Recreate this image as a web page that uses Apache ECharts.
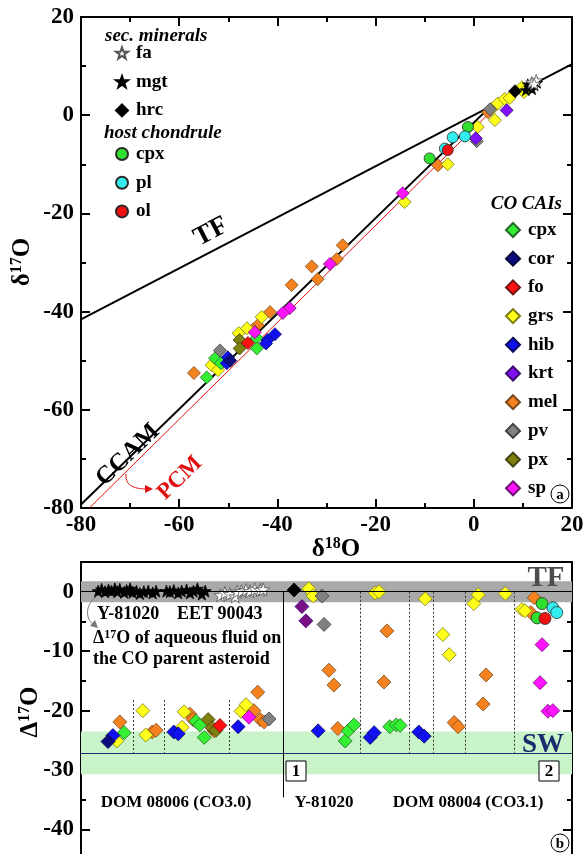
<!DOCTYPE html>
<html><head><meta charset="utf-8">
<script src="https://cdn.jsdelivr.net/npm/echarts@6/dist/echarts.min.js"></script>
<style>html,body{margin:0;padding:0;background:#fff}#c{width:584px;height:854px}</style>
</head><body><div id="c"></div>
<script>
// ---------- Panel (a): delta18O vs delta17O ----------
const xTicksA = [-80, -60, -40, -20, 0, 20];
const yTicksA = [-80, -60, -40, -20, 0, 20];
const tfLine = [[-80, -41.6], [20, 10.4]];
const ccamLine = [[-80, -79.3], [3.3, 1.7]];
const pcmLine = [[-78.3, -80], [8, 5.2]];

const aFa = [[11.8, 6.7], [12.7, 7.1], [12.3, 6.4]];
const aMgt = [[10.6, 5.1], [11.3, 5.7], [11.9, 5.3], [12.4, 6.1], [11.0, 6.3], [11.6, 6.0], [12.9, 6.6]];
const aHrc = [[8.4, 4.9]];
const aChCpx = [[-9.0, -8.8], [-1.2, -2.4]];
const aChPl = [[-5.9, -6.8], [-4.3, -4.5], [-1.8, -4.3]];
const aChOl = [[-5.3, -7.1]];
const aCpx = [[-44.2, -45.4], [-44.2, -47.5], [-52.7, -49.5], [-54.4, -53.4], [-51.5, -50.5]];
const aCor = [[-49.6, -50.0]];
const aFo = [[-46.0, -46.4]];
const aGrs = [[-43.2, -41.1], [-46.2, -43.4], [-47.9, -44.4], [-53.4, -50.9], [-52.1, -51.9], [-14.1, -17.7], [-5.3, -10.0], [0.8, -2.4], [4.3, -1.0], [3.8, 1.4], [4.9, 2.4], [6.3, 3.3], [7.3, 3.5], [9.8, 5.7], [10.2, 4.7]];
const aHib = [[-42.0, -45.8], [-40.5, -44.6], [-42.3, -46.5], [-50.1, -49.3], [-50.3, -50.5]];
const aKrt = [[0.4, -4.7], [6.7, 1.0]];
const aMel = [[-26.7, -26.5], [-27.9, -29.3], [-33.0, -30.8], [-31.8, -33.4], [-37.1, -34.6], [-41.5, -40.1], [-44.0, -42.8], [-45.0, -43.7], [-57.0, -52.5], [-7.3, -10.2], [2.9, 0.6]];
const aPv = [[-51.7, -47.9], [0.6, -5.3], [3.3, 1.2]];
const aPx = [[-47.7, -45.8], [-47.7, -47.5]];
const aSp = [[-29.3, -30.3], [-37.5, -39.3], [-38.9, -40.3], [-44.6, -44.2], [-14.5, -15.9]];

// ---------- Panel (b): analysis index vs Delta17O ----------
const yTicksB = [-40, -30, -20, -10, 0];
const bandTF = [-1.75, 1.75];
const bandSW = [-30.7, -23.5];
const swValue = -27.1;
const sepSolid = [41.1];
const sepLeft = [10.6, 16.9, 30.1];
const sepRight = [56.8, 66.8, 71.7, 78.2, 88.2];

const bMgt = [[3.5, 0.1], [4.2, 0.4], [4.9, 0.0], [5.6, 0.3], [6.2, 0.1], [6.9, 0.5], [7.4, 0.0], [7.9, 0.4], [8.8, -0.1], [9.3, 0.2], [10.0, 0.5], [10.5, -0.1], [11.3, 0.1], [12.0, -0.3], [12.8, 0.0], [13.7, 0.1], [14.6, -0.2], [15.3, 0.1], [17.4, 0.1], [18.1, 0.0], [18.9, 0.2], [19.8, -0.2], [20.5, 0.1], [21.5, 0.3], [22.2, -0.2], [22.9, 0.1], [23.7, 0.5], [24.6, -0.4], [25.3, 0.1]];
const bFa = [[28.4, -0.6], [29.3, -0.2], [30.3, -0.4], [31.4, -0.8], [31.8, 0.0], [32.7, 0.1], [33.6, 0.3], [34.4, 0.1], [35.4, 0.4], [36.5, 0.3], [37.1, 0.4]];
const bHrc = [[43.4, 0.3]];
const bChCpx = [[93.9, -2.0], [92.9, -4.4]];
const bChPl = [[96.1, -2.7], [96.9, -3.5]];
const bChOl = [[94.5, -4.5]];
const bCor = [[5.5, -25.2]];
const bHib = [[6.5, -24.2], [18.9, -23.6], [19.8, -23.9], [32.0, -22.7], [48.3, -23.4], [58.9, -24.5], [59.7, -23.7], [68.8, -23.6], [69.9, -24.3]];
const bGrs = [[7.3, -25.1], [12.6, -20.0], [13.2, -24.1], [20.6, -22.8], [21.0, -20.2], [32.6, -20.1], [33.6, -19.0], [46.4, 0.5], [47.3, -0.7], [59.9, -0.2], [60.7, 0.0], [70.1, -1.2], [73.7, -7.2], [75.0, -10.6], [80.0, -2.0], [80.9, -0.5], [86.4, -0.3], [89.8, -3.0], [90.4, -3.2]];
const bCpx = [[8.8, -23.7], [23.4, -21.8], [24.2, -22.4], [25.1, -24.5], [53.8, -25.1], [54.4, -23.4], [55.6, -22.4], [62.9, -22.7], [64.2, -22.4], [65.0, -22.5]];
const bMel = [[7.9, -21.9], [14.5, -23.6], [15.3, -23.3], [22.2, -20.6], [22.8, -21.5], [27.1, -23.4], [35.2, -20.0], [36.0, -16.9], [36.5, -21.5], [37.3, -21.9], [50.5, -13.2], [51.5, -15.7], [52.3, -23.0], [61.7, -15.2], [62.3, -6.6], [76.0, -22.0], [76.8, -22.7], [81.9, -18.9], [82.5, -14.0], [91.6, -3.5], [92.3, -1.0]];
const bPx = [[25.9, -21.5], [26.7, -22.9], [27.5, -23.3]];
const bFo = [[28.3, -22.5]];
const bSp = [[34.2, -21.1], [93.5, -15.3], [93.9, -8.9], [95.1, -20.1], [96.1, -20.0]];
const bPv = [[38.3, -21.4], [49.1, -0.7], [49.5, -5.5]];
const bKrt = [[45.0, -2.5], [45.8, -4.9]];

const SERIF = '"Liberation Serif","Times New Roman",serif';
const STAR = 'path://M50,2 L61.8,36.2 L97.6,36.2 L68.6,57.6 L79.4,92 L50,71 L20.6,92 L31.4,57.6 L2.4,36.2 L38.2,36.2 Z';

const styles = {
  fa: ['#ffffff', '#555555', STAR, 12],
  mgt: ['#000000', '#000000', STAR, 11],
  hrc: ['#000000', '#000000', 'diamond', 13],
  chcpx: ['#2fe02f', '#2a2a2a', 'circle', 11],
  pl: ['#33eef0', '#2a2a2a', 'circle', 11],
  ol: ['#ee1111', '#2a2a2a', 'circle', 11],
  cpx: ['#33f033', '#2a6a2a', 'diamond', 13],
  cor: ['#0c0c80', '#05053a', 'diamond', 13],
  fo: ['#ff1111', '#701010', 'diamond', 13],
  grs: ['#ffff1a', '#7a7a10', 'diamond', 13],
  hib: ['#1010f0', '#0a0a60', 'diamond', 13],
  krt: ['#8010f5', '#3a0a70', 'diamond', 13],
  mel: ['#f5821f', '#7a4a1a', 'diamond', 13],
  pv: ['#808080', '#404040', 'diamond', 13],
  px: ['#80800f', '#404010', 'diamond', 13],
  sp: ['#ff14ff', '#701070', 'diamond', 13]
};

function sc(name, key, data, a, colorOverride) {
  const s = styles[key];
  const size = a ? s[3] : s[3] + 1;
  return {
    name: name, type: 'scatter', data: data,
    xAxisIndex: a ? 0 : 2, yAxisIndex: a ? 0 : 2,
    symbol: s[2], symbolSize: size, z: 4,
    itemStyle: { color: colorOverride || s[0], borderColor: s[1], borderWidth: 0.8, opacity: 1 },
    emphasis: { disabled: true }
  };
}
function ln(data, color, width) {
  return { type: 'line', data: data, xAxisIndex: 0, yAxisIndex: 0, symbol: 'none', silent: true, z: 3,
    lineStyle: { color: color, width: width }, emphasis: { disabled: true } };
}

const series = [
  ln(tfLine, '#000', 2), ln(ccamLine, '#000', 2), ln(pcmLine, '#e01010', 1),
  sc('mel', 'mel', aMel, true), sc('grs', 'grs', aGrs, true), sc('cpx', 'cpx', aCpx, true),
  sc('hib', 'hib', aHib, true), sc('cor', 'cor', aCor, true), sc('px', 'px', aPx, true),
  sc('pv', 'pv', aPv, true), sc('fo', 'fo', aFo, true), sc('sp', 'sp', aSp, true), sc('krt', 'krt', aKrt, true),
  sc('cpx (chondrule)', 'chcpx', aChCpx, true), sc('pl', 'pl', aChPl, true), sc('ol', 'ol', aChOl, true),
  sc('hrc', 'hrc', aHrc, true), sc('mgt', 'mgt', aMgt, true), sc('fa', 'fa', aFa, true),
  // panel b reference marks
  {
    type: 'line', data: [], xAxisIndex: 2, yAxisIndex: 2, silent: true, z: 1,
    markArea: { silent: true, data: [
      [{ yAxis: bandTF[1], itemStyle: { color: '#a9a9a9' } }, { yAxis: bandTF[0] }],
      [{ yAxis: bandSW[1], itemStyle: { color: '#c9f4c9' } }, { yAxis: bandSW[0] }]
    ] },
    markLine: { silent: true, symbol: 'none', label: { show: false }, data: [].concat(
      [[{ coord: [0, 0], lineStyle: { color: '#000', width: 1, type: 'solid' } }, { coord: [100, 0] }]],
      [[{ coord: [0, swValue], lineStyle: { color: '#1f3070', width: 1, type: 'solid' } }, { coord: [100, swValue] }]],
      sepSolid.map(x => [{ coord: [x, 0], lineStyle: { color: '#000', width: 1, type: 'solid' } }, { coord: [x, -34.6] }]),
      sepLeft.map(x => [{ coord: [x, -18.2], lineStyle: { color: '#333', width: 1, type: [2, 2] } }, { coord: [x, swValue] }]),
      sepRight.map(x => [{ coord: [x, 0], lineStyle: { color: '#333', width: 1, type: [2, 2] } }, { coord: [x, swValue] }])
    ) }
  },
  sc('b mel', 'mel', bMel, false), sc('b grs', 'grs', bGrs, false), sc('b cpx', 'cpx', bCpx, false),
  sc('b hib', 'hib', bHib, false), sc('b cor', 'cor', bCor, false), sc('b px', 'px', bPx, false),
  sc('b pv', 'pv', bPv, false), sc('b fo', 'fo', bFo, false), sc('b sp', 'sp', bSp, false),
  sc('b krt', 'krt', bKrt, false, '#7a0f86'),
  sc('b chcpx', 'chcpx', bChCpx, false), sc('b pl', 'pl', bChPl, false), sc('b ol', 'ol', bChOl, false),
  sc('b hrc', 'hrc', bHrc, false), sc('b mgt', 'mgt', bMgt, false), sc('b fa', 'fa', bFa, false)
];

const labelFont = { fontFamily: SERIF, fontWeight: 'bold', fontSize: 23, color: '#000' };
function axisCommon(extra) {
  return Object.assign({
    type: 'value', splitLine: { show: false }, minorSplitLine: { show: false },
    axisLine: { show: true, onZero: false, lineStyle: { color: '#000', width: 2 } },
    axisTick: { show: true, inside: true, length: 9, lineStyle: { color: '#000', width: 2 } },
    minorTick: { show: true, splitNumber: 2, length: 5, lineStyle: { color: '#000', width: 2 } }
  }, extra);
}

const legendText = { fontFamily: SERIF, fontWeight: 'bold', fontSize: 19, color: '#000', lineHeight: 20, padding: [0, 0, 0, 3] };
const legends = [
  { data: ['fa', 'mgt', 'hrc'], left: 115, top: 43, itemWidth: 12, itemHeight: 12 },
  { data: ['cpx (chondrule)', 'pl', 'ol'], left: 115, top: 144, itemWidth: 12, itemHeight: 12 },
  { data: ['cpx', 'cor', 'fo', 'grs', 'hib', 'krt', 'mel', 'pv', 'px', 'sp'], left: 505, top: 220, itemWidth: 14, itemHeight: 14 }
].map(l => Object.assign({
  orient: 'vertical', itemGap: 8.7, selectedMode: false,
  textStyle: legendText, formatter: n => n.replace(' (chondrule)', ''), padding: 0
}, l));

function txt(x, y, text, font, extra) {
  return { type: 'text', x: x, y: y, silent: true, z: 100,
    style: Object.assign({ text: text, font: font, fill: '#000', align: 'left', verticalAlign: 'middle' }, extra || {}) };
}
function richTitle(x, y, big, sup, rot, size) {
  return { type: 'text', x: x, y: y, rotation: rot || 0, silent: true, z: 100,
    style: { text: '{a|' + big[0] + '}{s|' + sup + '}{a|' + big[1] + '}', align: 'center', verticalAlign: 'middle',
      rich: {
        a: { fontFamily: SERIF, fontWeight: 'bold', fontSize: size, fill: '#000', verticalAlign: 'bottom' },
        s: { fontFamily: SERIF, fontWeight: 'bold', fontSize: Math.round(size * 0.62), fill: '#000', verticalAlign: 'bottom', padding: [0, 0, Math.round(size * 0.42), 0] }
      } } };
}
function circ(x, y, ch) {
  return [
    { type: 'circle', shape: { cx: x, cy: y, r: 9 }, style: { fill: '#fff', stroke: '#000', lineWidth: 1 }, z: 100, silent: true },
    txt(x, y + 1, ch, 'bold 15px ' + SERIF, { align: 'center' })
  ];
}
const F = (s, w) => (w || 'bold') + ' ' + s + 'px ' + SERIF;

const graphic = [].concat(
  [
    txt(105, 36, 'sec. minerals', 'italic bold 19px ' + SERIF),
    txt(104, 133, 'host chondrule', 'italic bold 19px ' + SERIF),
    txt(562, 204, 'CO CAIs', 'italic bold 19px ' + SERIF, { align: 'right' }),
    Object.assign(txt(211, 232, 'TF', F(27), { align: 'center' }), { rotation: 0.48 }),
    Object.assign(txt(128, 455, 'CCAM', F(25), { align: 'center' }), { rotation: 0.77 }),
    Object.assign(txt(180, 478, 'PCM', F(23), { align: 'center', fill: '#e01010' }), { rotation: 0.77 }),
    { type: 'bezierCurve', silent: true, z: 100, shape: { x1: 126, y1: 474, cpx1: 125, cpy1: 487, cpx2: 136, cpy2: 489, x2: 148, y2: 489 },
      style: { stroke: '#e01010', lineWidth: 1, fill: null } },
    { type: 'polygon', silent: true, z: 100, shape: { points: [[153, 489], [145, 485], [145, 493]] }, style: { fill: '#e01010' } },
    richTitle(336, 549, ['δ', 'O'], '18', 0, 25),
    richTitle(22, 262, ['δ', 'O'], '17', Math.PI / 2, 25),
    richTitle(30, 712, ['Δ', 'O'], '17', Math.PI / 2, 25),
    txt(97, 614, 'Y-81020', F(18)),
    txt(177, 614, 'EET 90043', F(18)),
    { type: 'text', x: 93, y: 638, silent: true, z: 100, style: { text: '{a|Δ}{s|17}{a|O of aqueous fluid on}', verticalAlign: 'middle',
      rich: { a: { fontFamily: SERIF, fontWeight: 'bold', fontSize: 18, fill: '#000', verticalAlign: 'bottom' },
              s: { fontFamily: SERIF, fontWeight: 'bold', fontSize: 12, fill: '#000', verticalAlign: 'bottom', padding: [0, 0, 7, 0] } } } },
    txt(93, 659, 'the CO parent asteroid', F(18)),
    { type: 'bezierCurve', silent: true, z: 100, shape: { x1: 96, y1: 597, cpx1: 84, cpy1: 606, cpx2: 86, cpy2: 620, x2: 94, y2: 625 },
      style: { stroke: '#777', lineWidth: 1, fill: null } },
    { type: 'polygon', silent: true, z: 100, shape: { points: [[98, 628], [90, 626], [95, 620]] }, style: { fill: '#777' } },
    txt(176, 803, 'DOM 08006 (CO3.0)', F(17), { align: 'center' }),
    txt(324, 803, 'Y-81020', F(17), { align: 'center' }),
    txt(468, 803, 'DOM 08004 (CO3.1)', F(17), { align: 'center' }),
    { type: 'rect', silent: true, z: 100, shape: { x: 286, y: 761, width: 20, height: 20 }, style: { fill: '#fff', stroke: '#000', lineWidth: 1 } },
    txt(296, 772, '1', F(17), { align: 'center' }),
    { type: 'rect', silent: true, z: 100, shape: { x: 539, y: 761, width: 20, height: 20 }, style: { fill: '#fff', stroke: '#000', lineWidth: 1 } },
    txt(549, 772, '2', F(17), { align: 'center' }),
    txt(546, 579, 'TF', F(29), { align: 'center', fill: '#4d4d4d' }),
    txt(543, 745, 'SW', F(27), { align: 'center', fill: '#1c2b6b' })
  ],
  circ(560, 494, 'a'),
  circ(560, 843, 'b')
);

const option = {
  animation: false,
  backgroundColor: '#fff',
  grid: [
    { left: 81, top: 17, width: 491, height: 491, outerBoundsMode: 'none', containLabel: false },
    { left: 81, top: 562, width: 491, height: 327, outerBoundsMode: 'none', containLabel: false }
  ],
  xAxis: [
    axisCommon({ gridIndex: 0, min: xTicksA[0], max: xTicksA[xTicksA.length - 1], interval: 20, position: 'bottom',
      axisLabel: Object.assign({ margin: 6 }, labelFont) }),
    axisCommon({ gridIndex: 0, min: xTicksA[0], max: xTicksA[xTicksA.length - 1], interval: 20, position: 'top', axisLabel: { show: false } }),
    axisCommon({ gridIndex: 1, min: 0, max: 100, position: 'bottom', axisTick: { show: false }, minorTick: { show: false }, axisLabel: { show: false } }),
    axisCommon({ gridIndex: 1, min: 0, max: 100, position: 'top', axisTick: { show: false }, minorTick: { show: false }, axisLabel: { show: false } })
  ],
  yAxis: [
    axisCommon({ gridIndex: 0, min: yTicksA[0], max: yTicksA[yTicksA.length - 1], interval: 20, position: 'left',
      axisLabel: Object.assign({ margin: 7 }, labelFont) }),
    axisCommon({ gridIndex: 0, min: yTicksA[0], max: yTicksA[yTicksA.length - 1], interval: 20, position: 'right', axisLabel: { show: false } }),
    axisCommon({ gridIndex: 1, min: -50, max: 5, interval: 10, position: 'left',
      axisLabel: Object.assign({ margin: 7, showMaxLabel: false, showMinLabel: false,
        formatter: v => (yTicksB.indexOf(v) >= 0 ? String(v) : '') }, labelFont) }),
    axisCommon({ gridIndex: 1, min: -50, max: 5, interval: 10, position: 'right', axisLabel: { show: false } })
  ],
  legend: legends,
  graphic: graphic,
  series: series
};

const chart = echarts.init(document.getElementById('c'), null, { renderer: 'canvas' });
chart.setOption(option);
</script></body></html>
